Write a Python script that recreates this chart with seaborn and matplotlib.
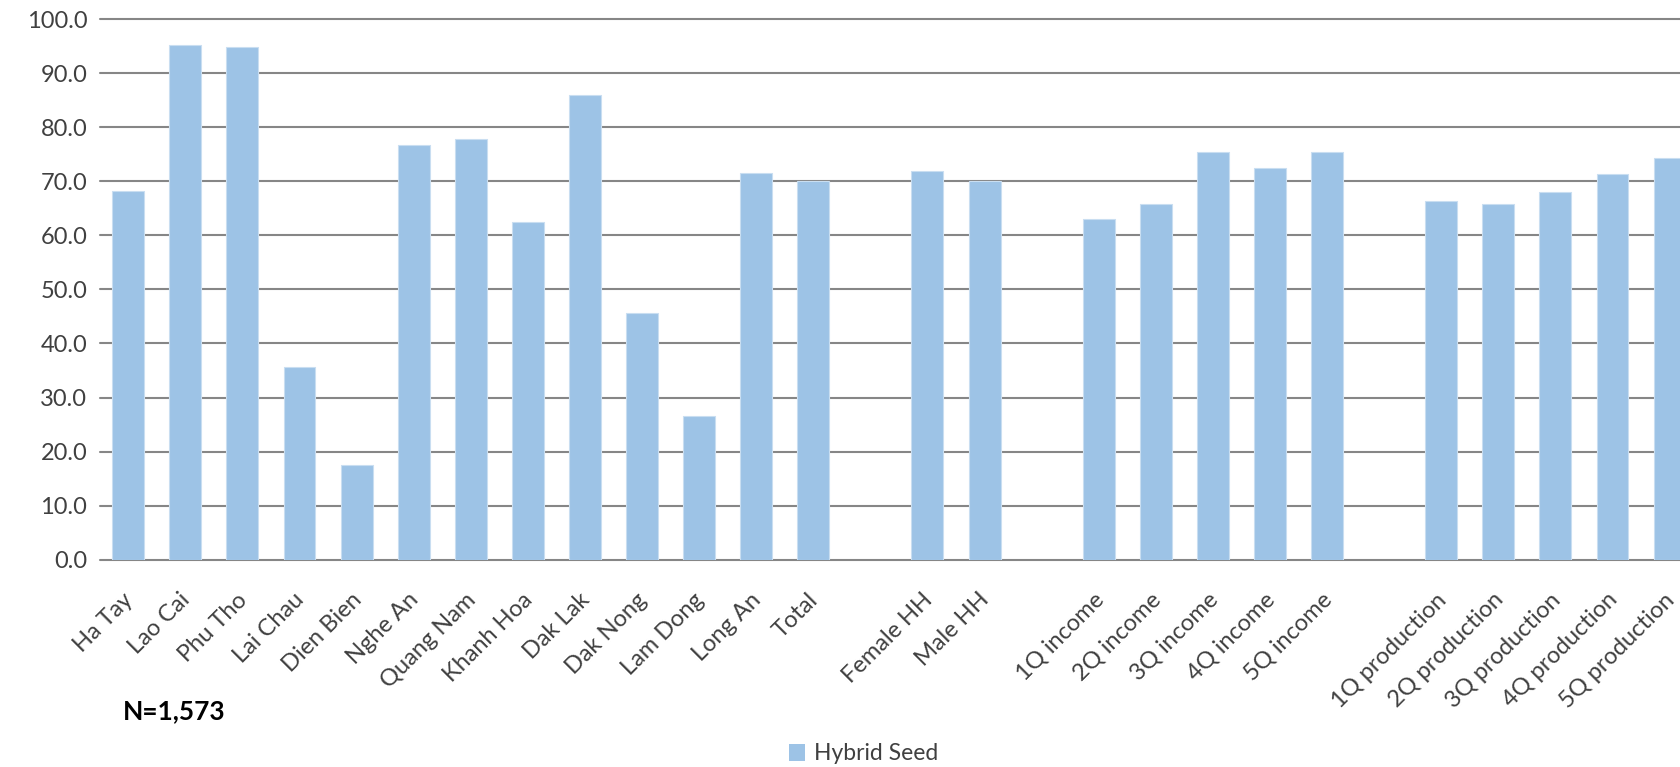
import matplotlib
matplotlib.use("Agg")
import matplotlib.pyplot as plt
import matplotlib.transforms as mtransforms
import seaborn as sns
import pandas as pd
from matplotlib.patches import Patch

# Share of households using hybrid seed (%), by group
provinces = ["Ha Tay", "Lao Cai", "Phu Tho", "Lai Chau", "Dien Bien", "Nghe An",
             "Quang Nam", "Khanh Hoa", "Dak Lak", "Dak Nong", "Lam Dong", "Long An", "Total"]
province_values = [68.2, 95.2, 94.9, 35.6, 17.5, 76.8, 77.8, 62.5, 86.0, 45.7, 26.6, 71.6, 70.0]

household_head = ["Female HH", "Male HH"]
household_values = [71.9, 70.0]

income_quintiles = ["1Q income", "2Q income", "3Q income", "4Q income", "5Q income"]
income_values = [63.0, 65.9, 75.4, 72.4, 75.4]

production_quintiles = ["1Q production", "2Q production", "3Q production",
                        "4Q production", "5Q production"]
production_values = [66.3, 65.9, 68.1, 71.4, 74.4]

series_name = "Hybrid Seed"
sample_note = "N=1,573"
y_ticks = [0, 10, 20, 30, 40, 50, 60, 70, 80, 90, 100]

BAR = "#9DC3E6"
GRID = "#868686"
TEXT = "#404040"

categories = provinces + household_head + income_quintiles + production_quintiles
values = province_values + household_values + income_values + production_values
df = pd.DataFrame({"group": categories, "share": values})

# empty slots separate the four blocks of bars
gap1, gap2, gap3 = "_gap1", "_gap2", "_gap3"
order = provinces + [gap1] + household_head + [gap2] + income_quintiles + [gap3] + production_quintiles

sns.set_theme(style="white")
plt.rcParams["font.family"] = ["Lato", "DejaVu Sans"]

fig = plt.figure(figsize=(16.81, 7.67), dpi=100)
ax = fig.add_axes([0.0593, 0.2704, 1.0 - 0.0593, 0.7044])

sns.barplot(data=df, x="group", y="share", order=order, color=BAR, saturation=1,
            width=0.56, edgecolor="#C9DEF1", linewidth=0.8, ax=ax, errorbar=None)

ax.set_ylim(0, 100)
ax.set_xlim(-0.5, 27.2)
ax.set_yticks(y_ticks)
ax.set_yticklabels([f"{v:.1f}" for v in y_ticks], fontsize=17, color=TEXT)
ax.tick_params(axis="y", length=0, pad=9)
ax.tick_params(axis="x", length=0, pad=4)

ax.set_xticks(range(len(order)))
ax.set_xticklabels(["" if o.startswith("_gap") else o for o in order],
                   rotation=45, ha="right", rotation_mode="anchor",
                   fontsize=17, color=TEXT)
# nudge the slanted labels so their ends sit just below each bar centre
shift = mtransforms.ScaledTranslation(-0.06, -0.24, fig.dpi_scale_trans)
for lbl in ax.get_xticklabels():
    lbl.set_transform(lbl.get_transform() + shift)

ax.set_xlabel("")
ax.set_ylabel("")
for s in ax.spines.values():
    s.set_visible(False)

ax.set_axisbelow(True)
ax.yaxis.grid(True, color=GRID, linewidth=1.5)
for gl in ax.get_ygridlines():
    gl.set_clip_on(False)

fig.text(123 / 1681, 1 - 711 / 767, sample_note, fontsize=19, fontweight="bold",
         color="#000000", ha="left", va="center")

handles = [Patch(facecolor=BAR, edgecolor="none", label=series_name)]
fig.legend(handles=handles, loc="center", bbox_to_anchor=(864 / 1681, 1 - 754 / 767),
           frameon=False, fontsize=16.5, handlelength=0.7, handleheight=0.7,
           handletextpad=0.4, labelcolor=TEXT)

fig.savefig("out.png", dpi=100)
